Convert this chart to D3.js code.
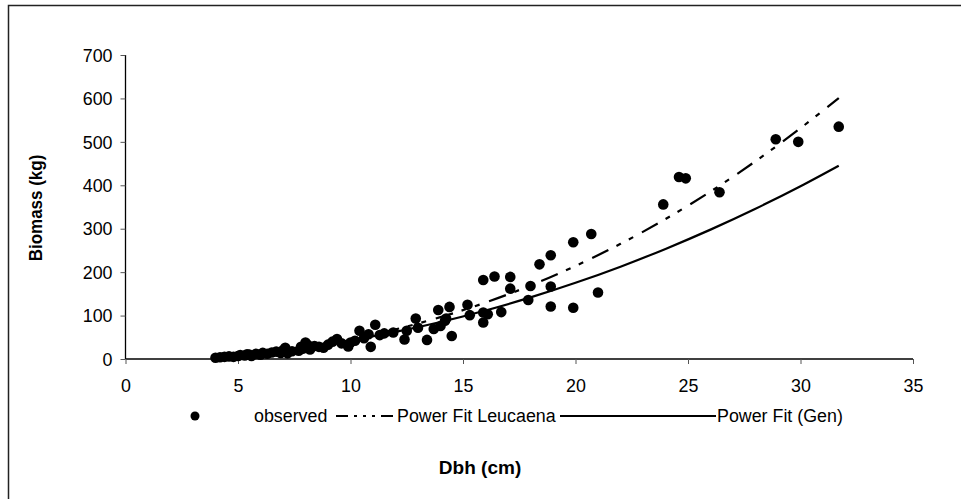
<!DOCTYPE html>
<html><head><meta charset="utf-8">
<script src="https://cdn.jsdelivr.net/npm/d3@7"></script>
<style>
html,body{margin:0;padding:0;background:#fff;}
svg{display:block;font-family:Arial,"Liberation Sans",sans-serif;}
</style></head>
<body>
<svg id="chart" width="961" height="499"></svg>
<script>
// observed Dbh (cm) and Biomass (kg)
const dbh = [4.0,4.2,4.4,4.6,4.8,5.0,5.1,5.3,5.4,5.5,5.6,5.8,6.0,6.1,6.3,6.5,6.7,6.9,7.0,7.1,7.2,7.4,7.7,7.8,7.9,8.0,8.1,8.2,8.4,8.6,8.8,9.0,9.2,9.4,9.6,9.9,10.0,10.2,10.4,10.6,10.8,10.9,11.1,11.3,11.5,11.9,12.4,12.5,12.9,13.0,13.4,13.7,13.9,14.0,14.2,14.25,14.4,14.5,15.2,15.3,15.9,15.9,15.9,16.1,16.4,16.7,17.1,17.1,17.9,18.0,18.4,18.9,18.9,18.9,19.9,19.9,20.7,21.0,23.9,24.6,24.9,26.4,28.9,29.9,31.7];
const biomass = [3,4,5,6,5,7,9,8,11,10,7,12,10,14,12,15,17,14,20,26,13,18,19,28,24,38,32,22,30,28,26,33,40,46,36,29,38,42,65,48,57,28,79,55,59,61,45,65,93,72,44,69,113,76,88,93,120,53,125,101,182,107,84,103,190,108,189,162,136,168,218,239,167,121,269,118,288,153,356,419,416,384,506,500,535];
// fitted curves
const fitDbh = [4,6,8,10,12,14,16,18,20,22,24,26,28,30,31.7];
const fitLeucaena = [5.8,14.5,27.5,45.4,68.2,96.4,130.0,169.2,214.3,265.2,322.3,385.6,455.4,531.5,601];
const fitGen = [6.8,15.4,27.6,43.2,62.5,85.3,111.8,141.8,175.4,212.6,253.5,297.9,346.0,397.8,445];
const xTicks = [0,5,10,15,20,25,30,35];
const yTicks = [0,100,200,300,400,500,600,700];
const legendLabels = ["observed","Power Fit Leucaena","Power Fit (Gen)"];
const xTitle = "Dbh (cm)";
const yTitle = "Biomass (kg)";

const svg = d3.select("#chart");
const x = d3.scaleLinear().domain([0,35]).range([125.5,913]);
const y = d3.scaleLinear().domain([0,700]).range([359,55]);
const FS = 17, SX = 1.05, SY = 1.08;
const sc = "scale("+SX+","+SY+")";

// outer frame
svg.append("rect").attr("x",8.5).attr("y",5.5).attr("width",1000).attr("height",600)
  .attr("fill","none").attr("stroke","#222").attr("stroke-width",1.5);

// x axis
const xAxis = d3.axisBottom(x).tickValues(xTicks).tickSize(5).tickPadding(0).tickFormat(d3.format("d"));
const gx = svg.append("g").attr("transform","translate(0,359)").call(xAxis);
gx.select(".domain").attr("stroke","#000").attr("stroke-width",1.3).attr("d","M125.5,0H913");
gx.selectAll(".tick line").attr("stroke","#555");
gx.selectAll(".tick text").attr("font-size",FS).attr("font-family","Arial,'Liberation Sans',sans-serif")
  .attr("fill","#000").attr("y",0).attr("dy",0).attr("transform","translate(0,33) "+sc);
// y axis
const yAxis = d3.axisLeft(y).tickValues(yTicks).tickSize(5).tickPadding(0);
const gy = svg.append("g").attr("transform","translate(125.5,0)").call(yAxis);
gy.select(".domain").attr("stroke","#000").attr("stroke-width",1.3).attr("d","M0,359V55");
gy.selectAll(".tick line").attr("stroke","#555");
gy.selectAll(".tick text").attr("font-size",FS).attr("font-family","Arial,'Liberation Sans',sans-serif")
  .attr("fill","#000").attr("x",0).attr("dy","0.34em").attr("transform","translate(-13,0) "+sc);

// fit lines
const line = d3.line().x(d=>x(d[0])).y(d=>y(d[1])).curve(d3.curveMonotoneX);
svg.append("path").datum(fitDbh.map((d,i)=>[d,fitLeucaena[i]]))
  .attr("d",line).attr("fill","none").attr("stroke","#000").attr("stroke-width",2.2)
  .attr("stroke-dasharray","18,9,5,9,5,10");
svg.append("path").datum(fitDbh.map((d,i)=>[d,fitGen[i]]))
  .attr("d",line).attr("fill","none").attr("stroke","#000").attr("stroke-width",2.2);

// points
svg.append("g").selectAll("circle").data(dbh.map((d,i)=>[d,biomass[i]])).join("circle")
  .attr("cx",d=>x(d[0])).attr("cy",d=>y(d[1])).attr("r",5.3).attr("fill","#000");

// axis titles
svg.append("text").attr("transform","translate(480,474) scale(1.12,1.08)").attr("text-anchor","middle")
  .attr("font-size",FS).attr("font-weight","bold").text(xTitle);
svg.append("text").attr("transform","translate(42,208) scale(1.12,1) rotate(-90)").attr("text-anchor","middle")
  .attr("font-size",FS).attr("font-weight","bold").text(yTitle);

// legend
const ly = 416;
const lg = svg.append("g");
function ltext(xp, s){
  lg.append("text").attr("transform","translate("+xp+","+(ly+6)+") "+sc).attr("font-size",FS).text(s);
}
lg.append("circle").attr("cx",195).attr("cy",ly).attr("r",4.5).attr("fill","#000");
ltext(254, legendLabels[0]);
lg.append("line").attr("x1",336).attr("x2",393).attr("y1",ly).attr("y2",ly)
  .attr("stroke","#000").attr("stroke-width",2.2).attr("stroke-dasharray","12,6,3,6,3,6,3,6,12");
ltext(397, legendLabels[1]);
lg.append("line").attr("x1",560).attr("x2",716).attr("y1",ly).attr("y2",ly)
  .attr("stroke","#000").attr("stroke-width",2.2);
ltext(717, legendLabels[2]);
</script>
</body></html>
